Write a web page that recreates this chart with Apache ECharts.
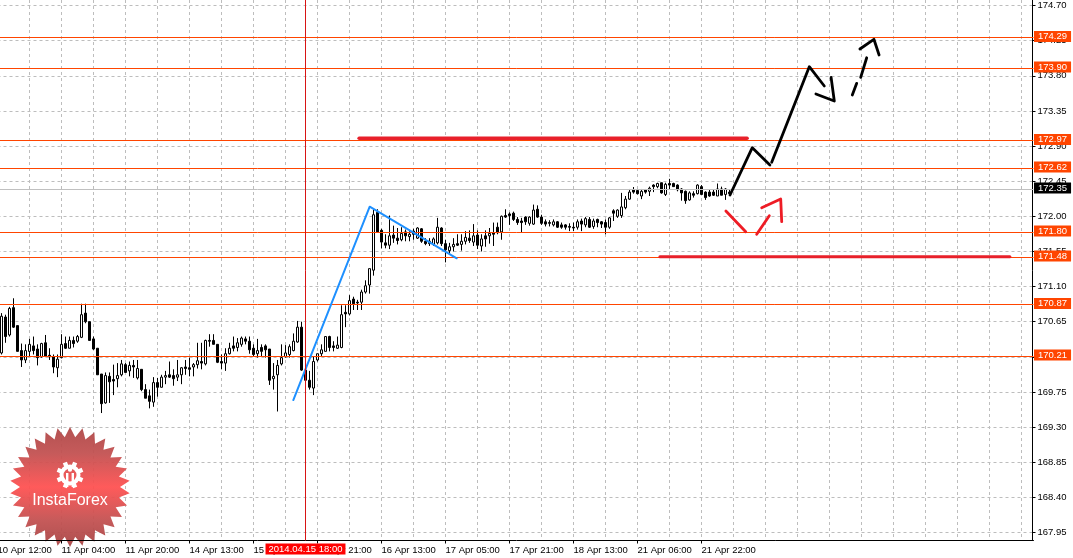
<!DOCTYPE html>
<html><head><meta charset="utf-8">
<style>html,body{margin:0;padding:0;background:#fff}#c{width:1073px;height:558px}</style>
<script src="https://cdn.jsdelivr.net/npm/echarts@6/dist/echarts.min.js"></script>
</head><body><div id="c"></div>
<script>
// [open, close, low, high] for bars 1..183
const candles = [
[170.25,170.72,170.23,170.76],[170.71,170.46,170.38,170.74],[170.48,170.82,170.46,170.84],[170.83,170.58,170.57,170.95],
[170.60,170.27,170.27,170.60],[170.28,170.16,170.07,170.37],[170.16,170.28,170.12,170.36],[170.27,170.36,170.20,170.43],
[170.34,170.28,170.23,170.46],[170.30,170.19,170.09,170.36],[170.20,170.37,170.19,170.38],[170.38,170.21,170.20,170.48],
[170.22,170.20,170.16,170.31],[170.20,170.07,169.99,170.23],[170.06,170.17,169.94,170.23],[170.19,170.36,170.18,170.49],
[170.37,170.31,170.30,170.46],[170.31,170.41,170.31,170.46],[170.41,170.37,170.32,170.46],[170.40,170.46,170.38,170.48],
[170.45,170.74,170.44,170.88],[170.76,170.65,170.63,170.88],[170.65,170.41,170.41,170.65],[170.43,170.30,170.29,170.46],
[170.31,169.97,169.97,170.31],[169.98,169.60,169.48,169.98],[169.61,169.96,169.60,170.00],[169.95,169.88,169.61,170.00],
[169.91,169.89,169.71,170.10],[169.92,169.96,169.81,170.12],[169.97,170.11,169.95,170.16],[170.10,170.00,170.00,170.12],
[170.02,170.09,169.95,170.14],[170.09,170.07,169.93,170.16],[169.93,170.05,169.91,170.16],[170.04,169.78,169.76,170.04],
[169.78,169.67,169.67,169.85],[169.70,169.63,169.54,169.78],[169.62,169.87,169.56,169.94],[169.87,169.81,169.69,169.93],
[169.81,169.94,169.81,169.97],[169.94,169.96,169.85,170.02],[169.97,169.94,169.93,170.14],[169.96,169.92,169.83,170.04],
[169.94,169.97,169.89,170.16],[169.97,170.06,169.85,170.07],[170.07,170.05,169.97,170.16],[170.06,170.04,169.95,170.19],
[170.07,170.10,169.95,170.12],[170.10,170.15,170.05,170.38],[170.14,170.12,170.04,170.38],[170.11,170.41,170.09,170.42],
[170.41,170.40,170.33,170.49],[170.41,170.36,170.36,170.49],[170.36,170.13,170.12,170.36],[170.14,170.12,170.04,170.23],
[170.12,170.24,170.02,170.31],[170.24,170.31,170.23,170.38],[170.34,170.31,170.27,170.46],[170.32,170.38,170.27,170.44],
[170.36,170.44,170.33,170.46],[170.43,170.40,170.36,170.46],[170.40,170.29,170.24,170.46],[170.31,170.23,170.20,170.36],
[170.24,170.28,170.19,170.43],[170.32,170.27,170.20,170.36],[170.34,170.29,170.19,170.36],[170.30,169.90,169.84,170.30],
[169.92,169.95,169.78,170.12],[169.97,170.09,169.50,170.16],[170.11,170.19,170.09,170.36],[170.20,170.25,170.19,170.35],
[170.23,170.33,170.19,170.36],[170.28,170.40,170.27,170.50],[170.39,170.58,170.38,170.66],[170.58,170.03,170.02,170.65],
[170.03,169.90,169.89,170.10],[169.90,169.81,169.78,170.02],[169.80,170.14,169.71,170.21],[170.16,170.24,170.14,170.24],
[170.24,170.29,170.21,170.36],[170.27,170.46,170.27,170.46],[170.46,170.32,170.27,170.47],[170.34,170.32,170.27,170.40],
[170.31,170.35,170.30,170.46],[170.32,170.74,170.31,170.86],[170.77,170.75,170.58,170.86],[170.75,170.92,170.73,170.99],
[170.94,170.88,170.80,170.97],[170.90,170.89,170.80,170.93],[170.90,171.03,170.80,171.06],[171.03,171.11,171.01,171.18],
[171.12,171.33,171.01,171.33],[171.31,172.02,171.24,172.09],[172.05,171.80,171.79,172.09],[171.82,171.67,171.59,171.84],
[171.66,171.63,171.59,171.77],[171.63,171.75,171.58,172.01],[171.76,171.72,171.66,171.88],[171.72,171.69,171.64,171.85],
[171.70,171.78,171.68,171.86],[171.80,171.75,171.68,171.83],[171.74,171.77,171.68,171.81],[171.81,171.77,171.70,171.84],
[171.72,171.85,171.71,171.86],[171.84,171.68,171.66,171.85],[171.68,171.65,171.63,171.72],[171.65,171.68,171.62,171.72],
[171.64,171.71,171.62,171.73],[171.66,171.86,171.64,171.98],[171.85,171.65,171.62,171.86],[171.65,171.57,171.41,171.70],
[171.56,171.61,171.51,171.66],[171.61,171.64,171.55,171.72],[171.65,171.63,171.62,171.77],[171.64,171.68,171.56,171.77],
[171.68,171.73,171.64,171.81],[171.72,171.69,171.66,171.82],[171.67,171.75,171.62,171.90],[171.76,171.63,171.58,171.82],
[171.62,171.71,171.55,171.77],[171.75,171.71,171.61,171.82],[171.75,171.78,171.65,171.85],[171.79,171.77,171.62,171.92],
[171.86,171.79,171.77,171.92],[171.80,172.00,171.70,172.01],[172.01,171.99,171.98,172.09],[172.03,172.01,171.89,172.05],
[172.04,171.96,171.94,172.06],[171.96,171.92,171.89,171.99],[171.94,171.92,171.79,171.98],[171.99,171.93,171.89,172.00],
[171.91,171.99,171.88,172.00],[171.90,172.08,171.89,172.15],[172.09,171.99,171.98,172.14],[171.99,171.91,171.89,172.02],
[171.93,171.90,171.87,171.96],[171.92,171.91,171.87,171.95],[171.89,171.93,171.87,171.96],[171.93,171.86,171.85,171.94],
[171.89,171.86,171.84,171.92],[171.89,171.86,171.83,171.90],[171.87,171.86,171.81,171.91],[171.86,171.85,171.81,171.92],
[171.86,171.93,171.83,171.96],[171.94,171.90,171.81,171.97],[171.89,171.97,171.86,171.99],[171.96,171.86,171.85,171.99],
[171.87,171.94,171.84,171.97],[171.96,171.92,171.86,171.97],[171.93,171.90,171.85,171.94],[171.92,171.86,171.77,171.96],
[171.86,171.98,171.84,171.99],[172.07,172.04,171.94,172.09],[172.00,172.08,171.98,172.09],[172.01,172.12,171.98,172.30],
[172.11,172.22,172.09,172.26],[172.22,172.31,172.21,172.35],[172.34,172.31,172.29,172.375],[172.33,172.29,172.28,172.35],
[172.26,172.32,172.22,172.35],[172.34,172.31,172.29,172.35],[172.32,172.36,172.26,172.38],[172.40,172.38,172.31,172.41],
[172.38,172.42,172.36,172.43],[172.43,172.30,172.29,172.43],[172.28,172.41,172.26,172.43],[172.42,172.40,172.34,172.48],
[172.42,172.38,172.38,172.43],[172.40,172.34,172.32,172.41],[172.35,172.30,172.20,172.36],[172.32,172.20,172.16,172.33],
[172.21,172.30,172.20,172.32],[172.29,172.27,172.24,172.32],[172.29,172.40,172.28,172.41],[172.38,172.28,172.27,172.40],
[172.31,172.24,172.21,172.32],[172.31,172.26,172.25,172.34],[172.31,172.27,172.26,172.34],[172.26,172.35,172.26,172.42],
[172.35,172.27,172.27,172.38],[172.28,172.35,172.21,172.36],[172.31,172.29,172.28,172.34]
];
const tickLabels = ["10 Apr 12:00","11 Apr 04:00","11 Apr 20:00","14 Apr 13:00","15 Apr 05:00","15 Apr 21:00","16 Apr 13:00","17 Apr 05:00","17 Apr 21:00","18 Apr 13:00","21 Apr 06:00","21 Apr 22:00"];
const priceTicks = [167.95,168.40,168.85,169.30,169.75,170.20,170.65,171.10,171.55,172.00,172.45,172.90,173.35,173.80,174.25,174.70];
const levels = [174.29,173.90,172.97,172.62,171.80,171.48,170.87,170.21];
const currentPrice = 172.35;
const crosshairBar = 77;
const crosshairLabel = "2014.04.15 18:00";
// drawn trend lines: [bar position, price]
const blueLine = [[73.95,169.647],[93.05,172.123],[114.8,171.462]];
const blackA = [[183.13,172.273],[188.7,172.879],[193.1,172.657]];
const blackB = [[193.55,172.692],[202.95,173.916],[206.7,173.669]];
const blackC = [[204.6,173.566],[209.2,173.477],[208.4,173.78]];
const blackD = [[213.7,173.554],[214.8,173.703]];
const blackE = [[215.8,173.78],[217.3,174.031]];
const blackF = [[215.6,174.143],[219.1,174.267],[220.4,174.066]];
const redA = [[182.1,172.068],[187.05,171.803]];
const redB = [[189.8,171.769],[192.95,172.008]];
const redC = [[191.05,172.11],[195.8,172.221],[196.05,171.931]];
const redBarTop = [[90.4,172.999],[187.4,172.999]];
const redBarLow = [[165.6,171.482],[253.1,171.482]];

const FONT = '"Liberation Sans", Arial, sans-serif';
const BAR_COUNT = 260;
const LABEL_STEP = 16;
const categories = Array.from({length: BAR_COUNT}, (_, i) => String(i));
const labelBars = tickLabels.map((_, k) => k * LABEL_STEP);
const chart = echarts.init(document.getElementById('c'), null, {renderer: 'canvas'});

function poly(data, color, width) {
  return {type: 'line', xAxisIndex: 1, data, showSymbol: false, symbol: 'none', silent: true, animation: false, z: 6,
    lineStyle: {color, width, cap: 'round', join: 'round'}};
}
function levelLabel(bg) {
  return {show: true, position: 'end', distance: 0.5, offset: [0, -1], color: '#fff', backgroundColor: bg,
    fontFamily: FONT, fontSize: 9.5, padding: [1, 4, 0, 4], lineHeight: 10, formatter: p => p.value.toFixed(2)};
}
// star-shaped watermark
const cx = 70, cy = 487, spikes = 30;
const star = [];
for (let k = 0; k < spikes * 2; k++) {
  const r = k % 2 ? 50 : 60, a = Math.PI * k / spikes - Math.PI / 2;
  star.push([cx + r * Math.cos(a), cy + r * Math.sin(a)]);
}
const gear = [];
for (let k = 0; k < 8; k++) {
  const a = Math.PI * k / 4 + Math.PI / 8;
  gear.push({type: 'rect', x: cx, y: 475, z: 4, rotation: a,
    shape: {x: -2.2, y: -13.5, width: 4.4, height: 5}, style: {fill: '#fff'}, silent: true});
}

chart.setOption({
  animation: false,
  backgroundColor: '#fff',
  grid: {left: -2.5, top: 0, width: 1036, height: 540.5, containLabel: false, outerBoundsMode: 'none'},
  xAxis: [
    {type: 'category', data: categories, boundaryGap: false, position: 'bottom',
     axisLine: {show: false}, axisTick: {show: false}, axisLabel: {show: false},
     splitLine: {show: true, interval: i => i % 8 === 0 && i > 0, lineStyle: {color: '#bdbdbd', type: [3, 3], width: 1}}},
    {type: 'value', min: 0, max: BAR_COUNT - 1, interval: LABEL_STEP, position: 'bottom', z: 5,
     axisLine: {show: true, onZero: false, lineStyle: {color: '#000', width: 1}},
     axisTick: {show: true, length: 3, customValues: labelBars, lineStyle: {color: '#000'}},
     splitLine: {show: false},
     axisLabel: {show: true, align: 'left', margin: 5, color: '#000', fontFamily: FONT, fontSize: 9.5, customValues: labelBars,
       hideOverlap: false, formatter: v => tickLabels[v / LABEL_STEP] || ''}}
  ],
  yAxis: {type: 'value', position: 'right', offset: -1, min: 167.8475, max: 174.7705, scale: true,
    axisLine: {show: true, onZero: false, lineStyle: {color: '#000', width: 1}},
    axisTick: {show: true, length: 3, customValues: priceTicks, lineStyle: {color: '#000'}},
    axisLabel: {show: true, margin: 5, customValues: priceTicks, color: '#000', fontFamily: FONT, fontSize: 9.5,
      formatter: v => v.toFixed(2)},
    splitLine: {show: true, lineStyle: {color: '#bdbdbd', type: [3, 3], width: 1}}},
  graphic: [
    {type: 'polygon', z: 3, silent: true, shape: {points: star}, style: {opacity: 0.94,
      fill: new echarts.graphic.LinearGradient(0, 0, 0, 1, [
        {offset: 0, color: '#ae4646'}, {offset: 0.22, color: '#c25050'}, {offset: 0.5, color: '#ff5050'}, {offset: 0.78, color: '#c25050'}, {offset: 1, color: '#a84444'}])}},
    {type: 'ring', z: 4, silent: true, shape: {cx, cy: 475, r: 10.5, r0: 6.5}, style: {fill: '#fff'}},
    ...gear,
    {type: 'circle', z: 4, silent: true, shape: {cx, cy: 469.5, r: 2.2}, style: {fill: '#fff'}},
    {type: 'rect', z: 4, silent: true, shape: {x: 66, y: 473, width: 2.4, height: 14}, style: {fill: '#fff'}},
    {type: 'rect', z: 4, silent: true, shape: {x: 71.6, y: 473, width: 2.4, height: 14}, style: {fill: '#fff'}},
    {type: 'text', z: 4, silent: true, style: {x: cx, y: 501, text: 'InstaForex', fill: '#fff', fontFamily: FONT, fontSize: 16, align: 'center', verticalAlign: 'middle'}}
  ],
  series: [
    {type: 'candlestick', z: 2, silent: true, barWidth: 2, clip: true,
     encode: {x: 0, y: [1, 2, 3, 4]},
     dimensions: ['bar', 'open', 'close', 'lowest', 'highest'],
     data: candles.map((r, k) => [k + 1, ...r]),
     itemStyle: {color: '#fff', color0: '#000', borderColor: '#000', borderColor0: '#000', borderWidth: 1}},
    {type: 'line', xAxisIndex: 1, data: [], silent: true, z: 4,
     markLine: {z: 4, silent: true, symbol: 'none', animation: false, lineStyle: {color: '#c0c0c0', width: 1, type: 'solid'},
       label: levelLabel('#000'), data: [{yAxis: currentPrice}]}},
    {type: 'line', xAxisIndex: 1, data: [], silent: true, z: 5,
     markLine: {z: 5, silent: true, symbol: 'none', animation: false, lineStyle: {color: '#ff4500', width: 1, type: 'solid'},
       label: levelLabel('#ff4500'), data: levels.map(v => ({yAxis: v}))}},
    {type: 'line', xAxisIndex: 1, data: [], silent: true, z: 10,
     markLine: {z: 20, silent: true, symbol: 'none', animation: false, lineStyle: {color: '#d81414', width: 1, type: 'solid'},
       label: {show: true, position: 'start', distance: 3, color: '#fff', backgroundColor: '#ff0000', fontFamily: FONT, fontSize: 9.5,
         padding: [1, 3, 0, 3], lineHeight: 10, formatter: crosshairLabel},
       data: [{xAxis: crosshairBar}]}},
    poly(blueLine, '#1e90ff', 2),
    poly(redBarTop, '#e8202a', 3.5), poly(redBarLow, '#e8202a', 3),
    poly(blackA, '#000', 2.8), poly(blackB, '#000', 2.8), poly(blackC, '#000', 2.8),
    poly(blackD, '#000', 2.8), poly(blackE, '#000', 2.8), poly(blackF, '#000', 2.8),
    poly(redA, '#ee1c25', 2.8), poly(redB, '#ee1c25', 2.8), poly(redC, '#ee1c25', 2.8)
  ]
});
</script></body></html>
